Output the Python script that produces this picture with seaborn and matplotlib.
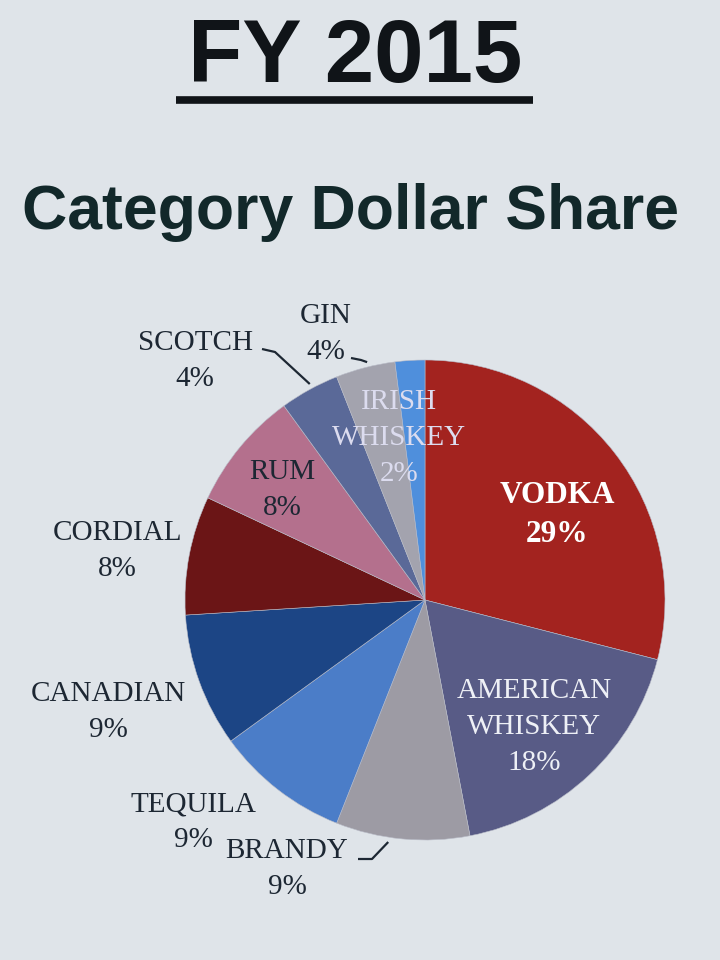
import numpy as np
import matplotlib
matplotlib.use("Agg")
import matplotlib.pyplot as plt
import seaborn as sns

# ── Data ─────────────────────────────────────────────────────────────────────
CATEGORIES = ["VODKA", "AMERICAN\nWHISKEY", "BRANDY", "TEQUILA", "CANADIAN",
              "CORDIAL", "RUM", "SCOTCH", "GIN", "IRISH\nWHISKEY"]
SHARES     = [29, 18, 9, 9, 9, 8, 8, 4, 4, 2]

# ── Style ────────────────────────────────────────────────────────────────────
BG       = "#dfe4e9"
TXT      = "#1d2733"
COLORS   = ["#a3231f", "#585b86", "#9d9ba4", "#4b7dc8", "#1c4585",
            "#6b1516", "#b4708d", "#5a6998", "#a3a3ae", "#4f8fdc"]

sns.set_style("white")
plt.rcParams["font.family"] = ["Liberation Serif", "DejaVu Serif"]

W, H = 720, 960
CX, CY, R = 425, 960 - 600, 240

fig = plt.figure(figsize=(7.2, 9.6), dpi=100, facecolor=BG)
ax = fig.add_axes([0, 0, 1, 1])
ax.set_facecolor(BG)

wedges, _ = ax.pie(SHARES, colors=sns.color_palette(COLORS), startangle=90,
                   counterclock=False, center=(CX, CY), radius=R,
                   wedgeprops=dict(linewidth=0.4, edgecolor="#b9bcc8"))
ax.set_aspect("equal")
ax.set_xlim(0, W)
ax.set_ylim(0, H)
ax.axis("off")

# label placement in pixel coords (x, y from top), colour, weight, size
label_style = {
    "VODKA":             ((557, 515), "white",   "bold",   22.5),
    "AMERICAN\nWHISKEY": ((534, 727), "#eef0f6", "normal", 21),
    "BRANDY":            ((287, 869), TXT,       "normal", 21),
    "TEQUILA":           ((193, 822), TXT,       "normal", 21),
    "CANADIAN":          ((108, 712), TXT,       "normal", 21),
    "CORDIAL":           ((117, 551), TXT,       "normal", 21),
    "RUM":               ((282, 490), TXT,       "normal", 21),
    "SCOTCH":            ((195, 361), TXT,       "normal", 21),
    "GIN":               ((326, 334), TXT,       "normal", 21),
    "IRISH\nWHISKEY":    ((399, 438), "#dcdcef", "normal", 21),
}

for name, share in zip(CATEGORIES, SHARES):
    (px, py), col, wt, fs = label_style[name]
    ax.text(px, H - py, f"{name}\n{share}%", ha="center", va="center",
            color=col, fontsize=fs, fontweight=wt, linespacing=1.48)

# leader lines for the outside labels: label elbow -> wedge rim
def rim_point(i, frac=0.5, r=R):
    w = wedges[i]
    ang = np.deg2rad(w.theta1 + (w.theta2 - w.theta1) * frac)
    return CX + r * np.cos(ang), CY + r * np.sin(ang)

leaders = {7: ([(262, 349), (275, 352)], 0.45),
           8: ([(351, 358), (361, 360)], 0.45),
           2: ([(358, 859), (372, 859)], 0.40)}
for i, (pts, frac) in leaders.items():
    rx, ry = rim_point(i, frac, R * 1.02)
    xs = [p[0] for p in pts] + [rx]
    ys = [H - p[1] for p in pts] + [ry]
    ax.plot(xs, ys, color=TXT, lw=1.6, solid_capstyle="butt")

# titles
ax.text(355, H - 59, "FY 2015", ha="center", va="center", fontsize=64,
        fontweight="bold", color="#101418",
        family=["Liberation Sans", "DejaVu Sans"])
ax.plot([176, 533], [H - 100, H - 100], color="#101418", lw=5.5,
        solid_capstyle="butt")
ax.text(350, H - 212, "Category Dollar Share", ha="center", va="center",
        fontsize=45, fontweight="bold", color="#12282a",
        family=["Liberation Sans", "DejaVu Sans"])

fig.savefig("out.png", dpi=100, facecolor=BG)
